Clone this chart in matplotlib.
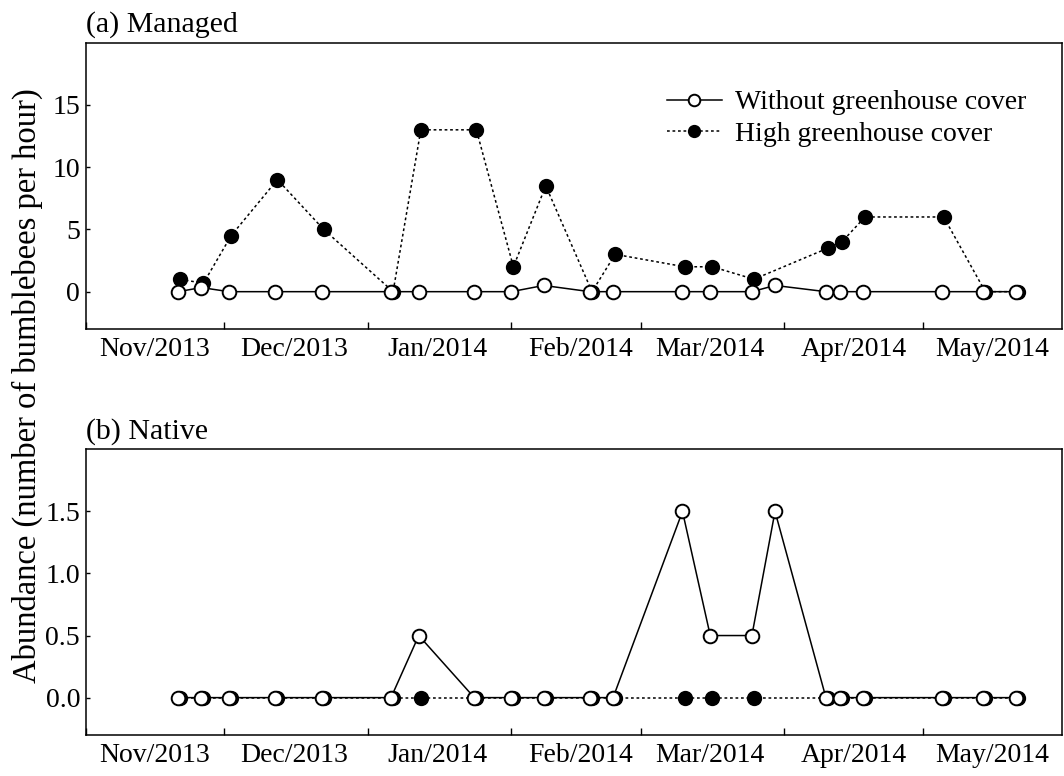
import numpy as np
import matplotlib
matplotlib.use('Agg')
import matplotlib.dates as mdates
from matplotlib import pyplot as plt
from matplotlib.transforms import offset_copy

plt.rcParams['font.family'] = 'serif'
plt.rcParams['font.serif'] = ['Liberation Serif', 'DejaVu Serif']
plt.rcParams['axes.linewidth'] = 1.1

# sampling dates (same for both greenhouse classes)
dates = np.array([
    '2013-11-21', '2013-11-26', '2013-12-02', '2013-12-12', '2013-12-22',
    '2014-01-06', '2014-01-12', '2014-01-24', '2014-02-01', '2014-02-08',
    '2014-02-18', '2014-02-23', '2014-03-10', '2014-03-16', '2014-03-25',
    '2014-03-30', '2014-04-10', '2014-04-13', '2014-04-18', '2014-05-05',
    '2014-05-14', '2014-05-21'
], dtype='datetime64[D]')

# (a) managed bumblebees per hour
managed_without = [0, 0.33, 0, 0, 0, 0, 0, 0, 0, 0.5, 0, 0,
                   0, 0, 0, 0.5, 0, 0, 0, 0, 0, 0]
managed_high = [1, 0.67, 4.5, 9, 5, 0, 13, 13, 2, 8.5, 0, 3,
                2, 2, 1, np.nan, 3.5, 4, 6, 6, 0, 0]

# (b) native bumblebees per hour
native_without = [0, 0, 0, 0, 0, 0, 0.5, 0, 0, 0, 0, 0,
                  1.5, 0.5, 0.5, 1.5, 0, 0, 0, 0, 0, 0]
native_high = [0, 0, 0, 0, 0, 0, 0, 0, 0, 0, 0, 0,
               0, 0, 0, np.nan, 0, 0, 0, 0, 0, 0]

series_labels = ['Without greenhouse cover', 'High greenhouse cover']
panel_titles = ['(a) Managed', '(b) Native']

fig = plt.figure(figsize=(10.64, 7.76), dpi=100)
ax1 = fig.add_axes([0.0805, 0.576, 0.9175, 0.369])
ax2 = fig.add_axes([0.0805, 0.053, 0.9175, 0.368])


def draw_panel(ax, without, high, title, ylim, yticks, yfmt):
    high = np.array(high, dtype=float)
    ok = ~np.isnan(high)
    # filled points sit a touch to the right, behind the open ones
    shifted = offset_copy(ax.transData, fig=fig, x=1.5, y=0, units='points')
    h_line, = ax.plot(dates[ok], high[ok], color='black', lw=1.1,
                      linestyle=(0, (1.8, 1.8)), marker='o', ms=9.8,
                      mfc='black', mec='black', mew=1.2,
                      transform=shifted, zorder=2)
    w_line, = ax.plot(dates, without, color='black', lw=1.1, linestyle='-',
                      marker='o', ms=9.8, mfc='white', mec='black',
                      mew=1.4, zorder=3)

    ax.set_xlim(np.datetime64('2013-11-01'), np.datetime64('2014-05-31'))
    ax.set_ylim(*ylim)
    ax.set_yticks(yticks)
    ax.yaxis.set_major_formatter(plt.FormatStrFormatter(yfmt))

    # tick marks at month starts, labels in the middle of each month
    ax.xaxis.set_major_locator(mdates.MonthLocator(bymonthday=1))
    ax.xaxis.set_major_formatter(plt.NullFormatter())
    ax.xaxis.set_minor_locator(mdates.MonthLocator(bymonthday=16))
    ax.xaxis.set_minor_formatter(mdates.DateFormatter('%b/%Y'))
    ax.tick_params(axis='x', which='major', direction='in', length=5,
                   width=1.0)
    ax.tick_params(axis='x', which='minor', length=0, pad=6, labelsize=20)
    ax.tick_params(axis='y', direction='in', length=3, width=1.0, pad=4,
                   labelsize=20)

    ax.set_title(title, loc='left', fontsize=21.5, pad=8)
    return w_line, h_line


handles = draw_panel(ax1, managed_without, managed_high, panel_titles[0],
                     (-3, 20), [0, 5, 10, 15], '%d')
draw_panel(ax2, native_without, native_high, panel_titles[1],
           (-0.3, 2.0), [0, 0.5, 1.0, 1.5], '%.1f')

ax1.legend(handles, series_labels, loc='upper left',
           bbox_to_anchor=(0.595, 0.835), frameon=False, fontsize=20,
           handlelength=2.0, handletextpad=0.45, labelspacing=0.22,
           markerscale=0.85, borderpad=0, borderaxespad=0)

fig.text(0.026, 0.503, 'Abundance (number of bumblebees per hour)',
         rotation=90, ha='center', va='center', fontsize=23.5)

plt.savefig('out.png', dpi=100)
